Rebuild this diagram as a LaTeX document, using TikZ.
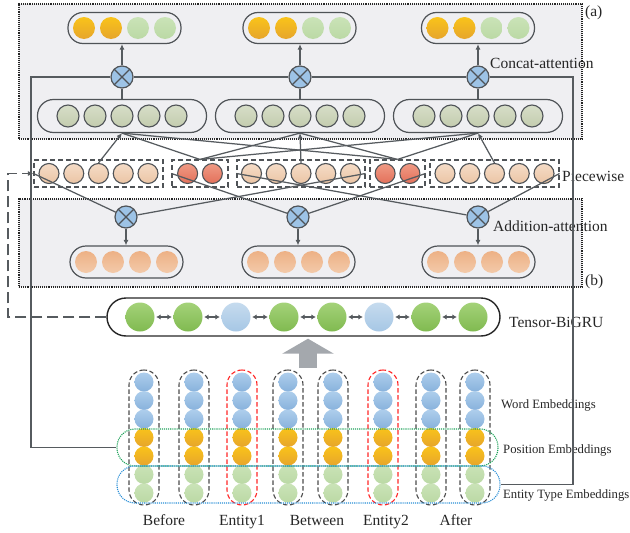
\documentclass[tikz,border=0pt]{standalone}
\usepackage{fontspec}
\setmainfont{Liberation Serif}
\usetikzlibrary{arrows.meta,positioning}

\definecolor{wire}{HTML}{565B5F}
\definecolor{rim}{HTML}{4F5357}
\definecolor{panelfill}{HTML}{EFEFF2}
\definecolor{shaftgray}{HTML}{A4A8AD}
\definecolor{posdot}{HTML}{1EA25A}
\definecolor{typedot}{HTML}{2A8FD6}
\definecolor{yelTop}{HTML}{F9C31A}
\definecolor{yelBot}{HTML}{E6A52C}
\definecolor{lgTop}{HTML}{CAE3B7}
\definecolor{lgBot}{HTML}{BBD9A5}
\definecolor{sageTop}{HTML}{D7DEC8}
\definecolor{sageBot}{HTML}{C3CCAE}
\definecolor{peachTop}{HTML}{F5DCC7}
\definecolor{peachBot}{HTML}{EBC5A5}
\definecolor{coralTop}{HTML}{F09A84}
\definecolor{coralBot}{HTML}{E3715B}
\definecolor{apricotTop}{HTML}{EDB185}
\definecolor{apricotBot}{HTML}{F3CAAA}
\definecolor{leafTop}{HTML}{A4D279}
\definecolor{leafBot}{HTML}{80BA50}
\definecolor{skyTop}{HTML}{C6DBEE}
\definecolor{skyBot}{HTML}{A6C7E5}
\definecolor{wordTop}{HTML}{AECEEC}
\definecolor{wordBot}{HTML}{88B2DC}
\definecolor{opfill}{HTML}{9DC3E6}

\tikzset{
  unit/.style={circle, inner sep=0pt, minimum size=22pt},
  outY/.style={unit, top color=yelTop, bottom color=yelBot},
  outG/.style={unit, top color=lgTop, bottom color=lgBot},
  midG/.style={unit, draw=rim, line width=1.1pt, top color=sageTop, bottom color=sageBot},
  peach/.style={unit, minimum size=20pt, draw=rim, line width=1.1pt, top color=peachTop, bottom color=peachBot},
  coral/.style={unit, minimum size=20pt, draw=rim, line width=1.1pt, top color=coralTop, bottom color=coralBot},
  addO/.style={unit, top color=apricotTop, bottom color=apricotBot},
  gruG/.style={unit, minimum size=29pt, top color=leafTop, bottom color=leafBot},
  gruB/.style={unit, minimum size=29pt, top color=skyTop, bottom color=skyBot},
  embW/.style={unit, minimum size=19pt, top color=wordTop, bottom color=wordBot},
  embP/.style={unit, minimum size=19pt, top color=yelTop, bottom color=yelBot},
  embT/.style={unit, minimum size=19pt, top color=lgTop, bottom color=lgBot},
  otimes/.style={unit, draw=rim, line width=1.2pt, fill=opfill,
    path picture={\draw[rim, line width=1.2pt]
      (path picture bounding box.north west) -- (path picture bounding box.south east)
      (path picture bounding box.north east) -- (path picture bounding box.south west);}},
  capsule/.style={draw=rim, line width=1.2pt, inner sep=0pt, rounded corners=15pt},
  piecebox/.style={draw=rim, line width=1.1pt, dash pattern=on 5pt off 3pt, inner sep=0pt, minimum height=27pt},
  colcap/.style={line width=1.1pt, dash pattern=on 4.5pt off 2.5pt, inner sep=0pt,
    minimum width=30pt, minimum height=135pt, rounded corners=15pt},
  panel/.style={draw=black!85, line width=1.1pt, densely dotted, fill=panelfill, inner sep=0pt},
  lbl/.style={font=\fontsize{15.5}{18}\selectfont, inner sep=0pt, anchor=base west, text=black!85},
  smalllbl/.style={font=\fontsize{12.7}{15}\selectfont, inner sep=0pt, anchor=base west, text=black!85},
  wire/.style={draw=wire, line width=1.25pt},
  tip/.style={-{Latex[length=5.5pt,width=5pt]}},
}

\begin{document}
\begin{tikzpicture}[x=1pt, y=-1pt]
  \useasboundingbox (0,0) rectangle (630,533);

  % attention panels
  \node[panel, minimum width=563pt, minimum height=135pt] (panelA) at (300.5,71.5) {};
  \node[panel, minimum width=563pt, minimum height=88pt] (panelB) at (300.5,243) {};
  \node[lbl] (tagA) at (585,16) {(a)};
  \node[lbl] (tagB) at (585,285) {(b)};

  % concat-attention outputs
  \foreach \cx [count=\i] in {124.5,299.5,478}{
    \node[capsule, minimum width=113pt, minimum height=31pt] (co\i) at (\cx,28) {};
    \foreach \dx/\s [count=\j] in {-40.5/outY,-13.5/outY,13.5/outG,40.5/outG}
      \node[\s] (co\i-\j) at (\cx+\dx,28) {};
  }
  % concat-attention inputs and operators
  \foreach \cx [count=\i] in {122,300,478}{
    \node[capsule, minimum width=169pt, minimum height=33pt, rounded corners=16pt] (mc\i) at (\cx,116) {};
    \foreach \dx [count=\j] in {-54,-27,0,27,54}
      \node[midG] (mc\i-\j) at (\cx+\dx,116) {};
    \node[otimes] (oc\i) at (\cx,77) {};
    \draw[wire] (mc\i.north) -- (oc\i.south);
    \draw[wire, tip] (oc\i.north) -- (oc\i.north |- co\i.south);
  }
  \node[lbl] (concatlbl) at (490,68) {Concat-attention};

  % piecewise segments
  \foreach \n/\cx/\w/\k/\s in {1/98.5/129/5/peach, 2/200/56/2/coral, 3/301/128/5/peach,
                                4/397.5/55/2/coral, 5/494.5/129/5/peach}{
    \node[piecebox, minimum width=\w pt] (pb\n) at (\cx,173.5) {};
    \foreach \m in {1,...,\k}{
      \pgfmathsetmacro\px{\cx+(\m-(\k+1)/2)*24.75}
      \node[\s] (p\n-\m) at (\px,173.5) {};
    }
  }
  \node[lbl] (piecelbl) at (562,181) {Piecewise};

  % addition-attention
  \foreach \ox/\cx [count=\i] in {126/126.5,298/298.5,478/478.5}{
    \node[capsule, minimum width=113pt, minimum height=32pt, rounded corners=16pt] (ac\i) at (\cx,262) {};
    \foreach \dx [count=\j] in {-40.5,-13.5,13.5,40.5}
      \node[addO] (ac\i-\j) at (\cx+\dx,262) {};
    \node[otimes] (oa\i) at (\ox,217) {};
    \draw[wire, tip] (oa\i.south) -- (oa\i.south |- ac\i.north);
  }
  \node[lbl] (addlbl) at (493,231) {Addition-attention};

  % piecewise -> concat
  \draw[wire, tip] (p1-3.north) -- (mc1.south);
  \draw[wire, tip] (p3-3.north) -- (mc2.south);
  \draw[wire, tip] (p5-3.north) -- (mc3.south);
  \foreach \i in {1,2,3}{
    \draw[wire] (pb2.north) -- (mc\i.south);
    \draw[wire] (pb4.north) -- (mc\i.south);
  }
  % piecewise -> addition
  \draw[wire] (pb1.west) -- (oa1);
  \draw[wire] (pb3.east) -- (oa1);
  \draw[wire] (pb2.west) -- (oa2);
  \draw[wire] (pb4.east) -- (oa2);
  \draw[wire] (pb3.west) -- (oa3);
  \draw[wire] (pb5.east) -- (oa3);

  % Tensor-BiGRU
  \node[draw=black!85, line width=1.4pt, inner sep=0pt, rounded corners=19pt,
        minimum width=393pt, minimum height=38pt] (bigru) at (303.5,317) {};
  \foreach \x/\s [count=\i] in {140/gruG,188/gruG,236/gruB,284/gruG,332/gruG,379/gruB,426/gruG,473/gruG}
    \node[\s] (g\i) at (\x,317) {};
  \foreach \i [evaluate=\i as \k using int(\i+1)] in {1,...,7}
    \draw[wire, line width=1.1pt, shorten <=1.5pt, shorten >=1.5pt,
          {Latex[length=4.5pt,width=5.5pt]}-{Latex[length=4.5pt,width=5.5pt]}] (g\i) -- (g\k);
  \node[lbl] (grulbl) at (509,327) {Tensor-BiGRU};

  % feedback to the piecewise layer
  \coordinate (fbturn) at (8,317);
  \draw[draw=wire, line width=1.2pt, dash pattern=on 11pt off 5pt, tip] (bigru.west) -- (fbturn) |- (pb1.west);

  % embeddings
  \foreach \x/\c [count=\i] in {144/black!70,194/black!70,242/red!85,288/black!70,
                                333/black!70,383/red!85,431/black!70,475/black!70}{
    \foreach \y [count=\j] in {382,400.5,419,437.5,456,474.5,493}{
      \ifnum\j<4 \def\emb{embW}\else\ifnum\j<6 \def\emb{embP}\else\def\emb{embT}\fi\fi
      \node[\emb] (e\i-\j) at (\x,\y) {};
    }
    \node[colcap, draw=\c] (col\i) at (\x,437.5) {};
  }
  \node[draw=posdot, line width=1.1pt, densely dotted, inner sep=0pt, rounded corners=18pt,
        minimum width=381pt, minimum height=37pt] (posgrp) at (307.5,447.5) {};
  \node[draw=typedot, line width=1.1pt, densely dotted, inner sep=0pt, rounded corners=18pt,
        minimum width=383pt, minimum height=37pt] (typegrp) at (308.5,484.5) {};
  \node[smalllbl] (wordlbl) at (501,408) {Word Embeddings};
  \node[smalllbl] (poslbl) at (503,453) {Position Embeddings};
  \node[smalllbl] (typelbl) at (503,498) {Entity Type Embeddings};

  % big arrow up to the BiGRU
  \coordinate (upbase) at (308,368);
  \draw[shaftgray, line width=18pt, -{Triangle[width=51pt,length=15pt]}, shorten >=2pt]
    (upbase) -- (upbase |- bigru.south);

  % segment names
  \foreach \t/\x [count=\i] in {Before/164,Entity1/242,Between/317,Entity2/386,After/456}
    \node[lbl, anchor=base] (seg\i) at (\x,525) {\t};

  % skip connections from the embeddings into concat-attention
  \coordinate (busL) at (31,77);
  \coordinate (busR) at (573,77);
  \draw[wire] (oc1.west) -- (busL) |- (posgrp.west);
  \draw[wire] (oc1.east) -- (oc2.west);
  \draw[wire] (oc2.east) -- (oc3.west);
  \draw[wire] (oc3.east) -- (busR) |- (typegrp.east);
\end{tikzpicture}
\end{document}
